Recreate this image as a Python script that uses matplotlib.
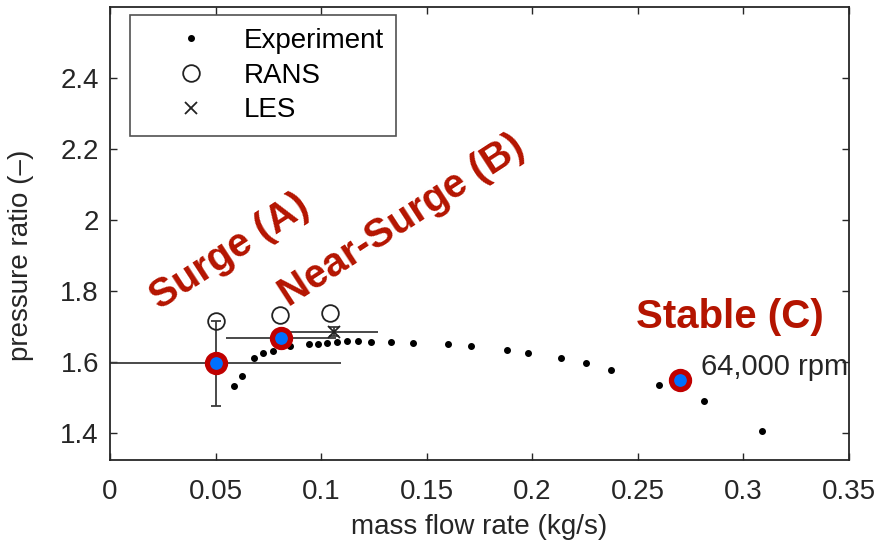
import numpy as np
import matplotlib.pyplot as plt

'''Datos leidos del grafico'''
# curva experimental a 64,000 rpm
exp_m = [0.0585, 0.0624, 0.0683, 0.0723, 0.0773, 0.0854, 0.0942, 0.0983, 0.1028,
         0.1075, 0.1124, 0.1173, 0.1235, 0.1333, 0.1434, 0.1602, 0.1712, 0.1878,
         0.1979, 0.2136, 0.2253, 0.2374, 0.2600, 0.2814, 0.3086]
exp_pr = [1.534, 1.562, 1.613, 1.627, 1.633, 1.645, 1.651, 1.652, 1.654,
          1.657, 1.659, 1.659, 1.658, 1.657, 1.654, 1.652, 1.646, 1.634,
          1.627, 1.611, 1.597, 1.578, 1.536, 1.490, 1.407]

# RANS
rans_m = [0.0503, 0.0805, 0.1043]
rans_pr = [1.717, 1.733, 1.740]

# LES con barras de error
les_m = [0.0503, 0.081, 0.1060]
les_pr = [1.598, 1.668, 1.686]
les_xerr = [0.0592, 0.026, 0.021]
les_yerr_low = [0.121, 0.0, 0.012]
les_yerr_high = [0.118, 0.0, 0.012]

# puntos de operacion marcados
op_m = [0.0503, 0.081, 0.270]
op_pr = [1.598, 1.668, 1.550]

xticks = [0, 0.05, 0.1, 0.15, 0.2, 0.25, 0.3, 0.35]
xticklabels = ['0', '0.05', '0.1', '0.15', '0.2', '0.25', '0.3', '0.35']
yticks = [1.4, 1.6, 1.8, 2.0, 2.2, 2.4]
yticklabels = ['1.4', '1.6', '1.8', '2', '2.2', '2.4']

plt.rcParams['font.family'] = ['Liberation Sans', 'DejaVu Sans']
gris = '#262626'
rojo = '#B41400'

fig = plt.figure(figsize=(8.85, 5.44), dpi=100)
ax = fig.add_axes([0.1243, 0.1544, 0.835, 0.8327])

'''Barras de error (LES)'''
ax.errorbar(les_m, les_pr, xerr=les_xerr, fmt='none', ecolor='#3a3a3a',
            elinewidth=1.3, capsize=0, zorder=2)
ax.errorbar(les_m, les_pr, yerr=[les_yerr_low, les_yerr_high], fmt='none',
            ecolor='#3a3a3a', elinewidth=1.3, capsize=3.5, capthick=1.3, zorder=2)

'''Series'''
ax.plot(exp_m, exp_pr, 'o', color='black', ms=4, label='Experiment', zorder=3)
ax.plot(rans_m, rans_pr, 'o', mfc='none', mec='#222222', mew=1.3, ms=12,
        label='RANS', zorder=3)
ax.plot(les_m, les_pr, 'x', color='#222222', mew=1.3, ms=8, label='LES', zorder=3)

'''Puntos de operacion'''
ax.plot(op_m, op_pr, 'o', ms=13, mfc='#0070FF', mec='#C00000', mew=3.8,
        zorder=5, clip_on=False)

'''Anotaciones'''
ax.text(0.0235, 1.745, 'Surge (A)', color=rojo, fontsize=29, fontweight='bold',
        rotation=33, rotation_mode='anchor', ha='left', va='baseline')
ax.text(0.0845, 1.755, 'Near-Surge (B)', color=rojo, fontsize=29, fontweight='bold',
        rotation=33, rotation_mode='anchor', ha='left', va='baseline')
ax.text(0.249, 1.697, 'Stable (C)', color=rojo, fontsize=29, fontweight='bold',
        ha='left', va='baseline')
ax.text(0.280, 1.564, '64,000 rpm', color=gris, fontsize=21, ha='left',
        va='baseline')

'''Ejes'''
ax.set_xlim(0, 0.35)
ax.set_ylim(1.325, 2.6)
ax.set_xticks(xticks)
ax.set_xticklabels(xticklabels)
ax.set_yticks(yticks)
ax.set_yticklabels(yticklabels)
ax.tick_params(direction='in', top=True, right=True, length=5, width=1,
               colors=gris, labelsize=20, pad=8)
ax.tick_params(axis='x', pad=14)
for s in ax.spines.values():
    s.set_color(gris)
    s.set_linewidth(1.3)
ax.set_xlabel('mass flow rate (kg/s)', fontsize=20, color=gris, labelpad=6)
ax.set_ylabel('pressure ratio (\u2013)', fontsize=20, color=gris)
ax.yaxis.set_label_coords(-0.103, 0.4525)

leg = ax.legend(loc='upper left', bbox_to_anchor=(0.027, 0.982), borderaxespad=0,
                fontsize=20, frameon=True, fancybox=False, edgecolor=gris,
                handlelength=3.5, handletextpad=0.15, labelspacing=0.32,
                borderpad=0.45, markerscale=1.0)
leg.get_frame().set_linewidth(1.2)

fig.savefig('out.png', dpi=100)
